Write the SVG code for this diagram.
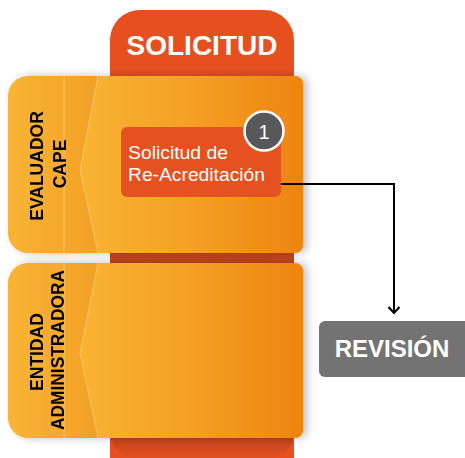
<svg xmlns="http://www.w3.org/2000/svg" width="465" height="458" viewBox="0 0 465 458">
<defs>
<style>
.lbl{font-family:"Liberation Sans",Arial,sans-serif;font-weight:bold;fill:#000;font-size:17.5px}
.title{font-family:"Liberation Sans",Arial,sans-serif;font-weight:bold;fill:#fff}
.task{font-family:"Liberation Sans",Arial,sans-serif;fill:#fff;font-size:19px}
.conn{fill:none;stroke:#000;stroke-width:2}
</style>
<linearGradient id="gMain" x1="80" y1="0" x2="303" y2="0" gradientUnits="userSpaceOnUse">
<stop offset="0" stop-color="#f9b433"/>
<stop offset="0.5" stop-color="#f4a024"/>
<stop offset="1" stop-color="#ee840f"/>
</linearGradient>
<linearGradient id="gLeft" x1="8" y1="0" x2="98" y2="0" gradientUnits="userSpaceOnUse">
<stop offset="0" stop-color="#f9b535"/>
<stop offset="1" stop-color="#f3a027"/>
</linearGradient>
<linearGradient id="gColBot" x1="0" y1="438" x2="0" y2="458" gradientUnits="userSpaceOnUse">
<stop offset="0" stop-color="#c2441a"/>
<stop offset="1" stop-color="#e24f20"/>
</linearGradient>
<filter id="sh" x="-10%" y="-10%" width="125%" height="125%">
<feGaussianBlur in="SourceAlpha" stdDeviation="4"/>
<feOffset dx="4" dy="0"/>
<feComponentTransfer><feFuncA type="linear" slope="0.25"/></feComponentTransfer>
<feMerge><feMergeNode/><feMergeNode in="SourceGraphic"/></feMerge>
</filter>
<marker id="arr" markerWidth="10" markerHeight="14" refX="8" refY="7" orient="auto" markerUnits="userSpaceOnUse" viewBox="0 0 10 14">
<path d="M2,1.5 L8,7 L2,12.5" fill="none" stroke="#000" stroke-width="2"/>
</marker>
</defs>

<g id="pool-solicitud">
<path d="M110,460 V40 A30,30 0 0 1 140,10 H264 A30,30 0 0 1 294,40 V460 Z" fill="#e6501f"/>
<rect x="110" y="245" width="184" height="25" fill="#c4451a"/>
<path d="M110,430 H294 V433 A25,25 0 0 1 269,458 H135 A25,25 0 0 1 110,433 Z" fill="url(#gColBot)"/>
<text class="title" x="202" y="55" font-size="28" text-anchor="middle">SOLICITUD</text>
</g>

<g id="lane-evaluador" filter="url(#sh)">
<path d="M28,76 H295 A8,8 0 0 1 303,84 V245 A8,8 0 0 1 295,253 H28 A20,20 0 0 1 8,233 V96 A20,20 0 0 1 28,76 Z" fill="url(#gLeft)"/>
<path d="M98,76 H295 A8,8 0 0 1 303,84 V245 A8,8 0 0 1 295,253 H98 L80,170 Z" fill="url(#gMain)"/>
<path d="M98,76 L80,170 L98,253" fill="none" stroke="#fff" stroke-opacity="0.3" stroke-width="1"/>
<line x1="64" y1="76" x2="64" y2="253" stroke="#fff" stroke-opacity="0.35" stroke-width="1"/>
<text class="lbl" transform="translate(43,166) rotate(-90)" text-anchor="middle">EVALUADOR</text>
<text class="lbl" transform="translate(66,164) rotate(-90)" text-anchor="middle">CAPE</text>
</g>

<g id="lane-entidad" filter="url(#sh)">
<path d="M28,263 H295 A8,8 0 0 1 303,271 V430 A8,8 0 0 1 295,438 H28 A20,20 0 0 1 8,418 V283 A20,20 0 0 1 28,263 Z" fill="url(#gLeft)"/>
<path d="M98,263 H295 A8,8 0 0 1 303,271 V430 A8,8 0 0 1 295,438 H98 L80,353 Z" fill="url(#gMain)"/>
<path d="M98,263 L80,353 L98,438" fill="none" stroke="#fff" stroke-opacity="0.3" stroke-width="1"/>
<line x1="64" y1="263" x2="64" y2="438" stroke="#fff" stroke-opacity="0.35" stroke-width="1"/>
<text class="lbl" transform="translate(43,352) rotate(-90)" text-anchor="middle">ENTIDAD</text>
<text class="lbl" transform="translate(64,350) rotate(-90)" text-anchor="middle" textLength="160" lengthAdjust="spacingAndGlyphs">ADMINISTRADORA</text>
</g>

<g id="task-1">
<rect x="121" y="127" width="160" height="70" rx="6" fill="#e5511f"/>
<text class="task" x="128" y="159" textLength="100" lengthAdjust="spacingAndGlyphs">Solicitud de</text>
<text class="task" x="128" y="181" textLength="137" lengthAdjust="spacingAndGlyphs">Re-Acreditación</text>
<circle cx="264" cy="131" r="19.5" fill="#58585a" stroke="#fff" stroke-width="2.5"/>
<text class="title" x="264" y="138.5" font-size="20" text-anchor="middle" style="font-weight:normal">1</text>
</g>

<g id="revision">
<rect x="319" y="321" width="156" height="56" rx="6" fill="#737373"/>
<text class="title" x="392" y="357" font-size="24" text-anchor="middle">REVISIÓN</text>
</g>

<g id="connectors">
<path class="conn" d="M281,184 H394 V313" marker-end="url(#arr)"/>
</g>
</svg>
